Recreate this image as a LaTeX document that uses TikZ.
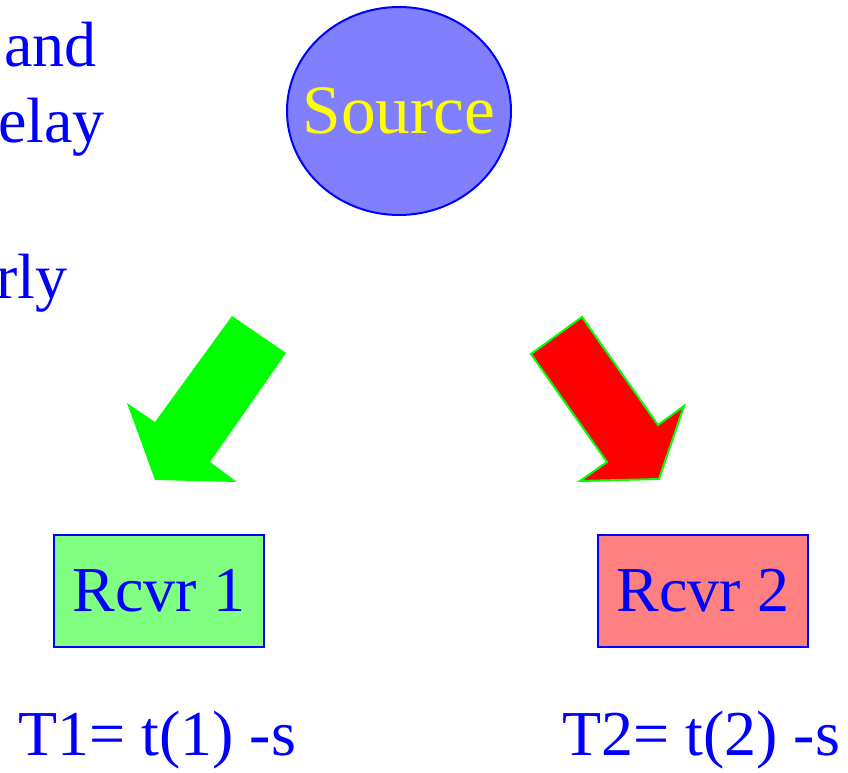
\documentclass[tikz,border=0pt]{standalone}
\IfFileExists{pplr8t.tfm}{\usepackage[T1]{fontenc}\renewcommand{\rmdefault}{ppl}}{\usepackage{fontspec}\setmainfont{Liberation Serif}}
\usetikzlibrary{shapes.geometric}
\definecolor{tblue}{RGB}{0,0,255}
\definecolor{srcfill}{RGB}{128,128,255}
\definecolor{gfill}{RGB}{128,255,128}
\definecolor{rfill}{RGB}{255,128,128}
\definecolor{agreen}{RGB}{0,255,0}
\definecolor{ared}{RGB}{255,0,0}
\definecolor{tyellow}{RGB}{255,255,0}
\tikzset{
  big/.style={font=\fontsize{48}{58}\selectfont},
  lefttxt/.style={big, text=tblue, anchor=base east, inner sep=0pt},
  rcvr/.style={big, text=tblue, draw=tblue, line width=1.5pt, minimum width=157.5pt, minimum height=84pt, inner sep=0pt},
  tlabel/.style={big, text=tblue, anchor=base west, inner sep=0pt},
}
\begin{document}
\begin{tikzpicture}[x=0.75pt,y=-0.75pt]
\useasboundingbox (0,0) rectangle (848,773);
% left cut-off text
\node[lefttxt] (l1) at (97,67) {and};
\node[lefttxt] (l2) at (105,143) {elay};
\node[lefttxt] (l3) at (68,298) {rly};
% source
\node[ellipse, draw=tblue, line width=1.5pt, fill=srcfill, minimum width=168pt, minimum height=156pt, inner sep=0pt] (src) at (399,111) {};
\node[font=\fontsize{52}{60}\selectfont, text=tyellow, inner sep=0pt] (srctxt) at (src.center) {Source};
% receivers
\node[rcvr, fill=gfill] (r1) at (159,591) {Rcvr 1};
\node[rcvr, fill=rfill] (r2) at (703,591) {Rcvr 2};
% labels
\node[tlabel] (t1) at (18,755) {T1= t(1) -s};
\node[tlabel] (t2) at (562,755) {T2= t(2) -s};
% arrows
\fill[agreen] (232,316) -- (286,353) -- (210,462) -- (237,482) -- (155,480) -- (127,403) -- (155,422) -- cycle;
\filldraw[fill=ared, draw=agreen, line width=1.5pt, line join=miter] (582,317) -- (531,354) -- (607,462) -- (580,481) -- (659,479) -- (684,406) -- (658,425) -- cycle;
\end{tikzpicture}
\end{document}
